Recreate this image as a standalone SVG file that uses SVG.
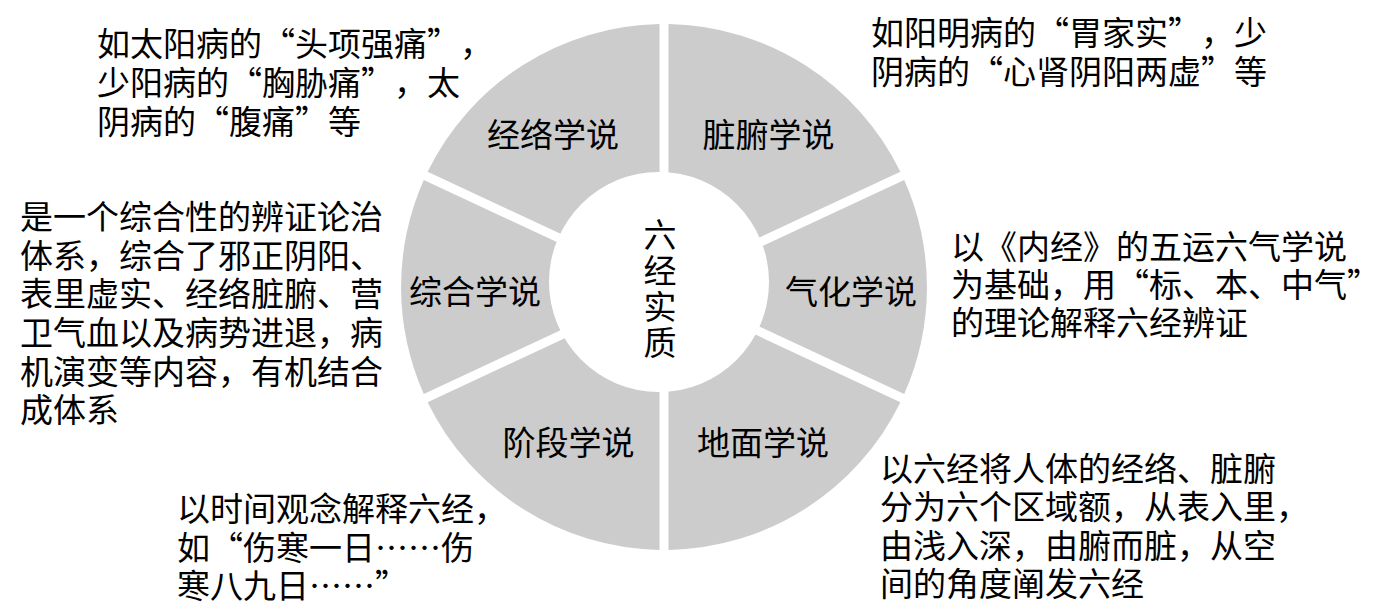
<svg xmlns="http://www.w3.org/2000/svg" width="1390" height="613" viewBox="0 0 1390 613">
<style>
text{font-family:"Noto Sans CJK SC","Noto Sans",sans-serif;fill:#000;text-spacing-trim:space-all}
.lbl{font-size:33px;text-anchor:middle}
.note{font-size:33px}
.ctr{font-size:33px;text-anchor:middle;writing-mode:vertical-rl;letter-spacing:3px}
.seg{fill:#cccccc}
</style>
<rect width="1390" height="613" fill="#ffffff"/>
<g id="ring">
<g id="seg-zangfu"><path class="seg" d="M668.5,279.9 L668.5,24.04 A263,263 0 0,1 900.4,171.8 Z"/><text class="lbl" x="768.5" y="147">脏腑学说</text></g>
<g id="seg-qihua"><path class="seg" d="M674.65,287 L904.2,180 A263,263 0 0,1 904.2,394 Z"/><text class="lbl" x="851" y="304">气化学说</text></g>
<g id="seg-dimian"><path class="seg" d="M668.5,294.1 L900.4,402.2 A263,263 0 0,1 668.5,549.96 Z"/><text class="lbl" x="763" y="455">地面学说</text></g>
<g id="seg-jieduan"><path class="seg" d="M659.5,294.1 L659.5,549.96 A263,263 0 0,1 427.6,402.2 Z"/><text class="lbl" x="568.5" y="455">阶段学说</text></g>
<g id="seg-zonghe"><path class="seg" d="M653.35,287 L423.8,394 A263,263 0 0,1 423.8,180 Z"/><text class="lbl" x="475" y="304">综合学说</text></g>
<g id="seg-jingluo"><path class="seg" d="M659.5,279.9 L427.6,171.8 A263,263 0 0,1 659.5,24.04 Z"/><text class="lbl" x="553" y="147">经络学说</text></g>
</g>
<g id="center">
<circle cx="659" cy="282" r="110" fill="#ffffff"/>
<text class="ctr" x="660" y="290">六经实质</text>
</g>
<g id="connectors"></g>
<g id="note-jingluo">
<text class="note"><tspan x="97" y="56">如太阳病的“头项强痛”，</tspan><tspan x="97" y="95">少阳病的“胸胁痛”，太</tspan><tspan x="97" y="134">阴病的“腹痛”等</tspan></text>
</g>
<g id="note-zangfu">
<text class="note"><tspan x="871" y="45">如阳明病的“胃家实”，少</tspan><tspan x="871" y="84">阴病的“心肾阴阳两虚”等</tspan></text>
</g>
<g id="note-zonghe">
<text class="note"><tspan x="20" y="229">是一个综合性的辨证论治</tspan><tspan x="20" y="268">体系，综合了邪正阴阳、</tspan><tspan x="20" y="306">表里虚实、经络脏腑、营</tspan><tspan x="20" y="345">卫气血以及病势进退，病</tspan><tspan x="20" y="384">机演变等内容，有机结合</tspan><tspan x="20" y="422">成体系</tspan></text>
</g>
<g id="note-qihua">
<text class="note"><tspan x="951" y="259">以《内经》的五运六气学说</tspan><tspan x="951" y="297">为基础，用“标、本、中气”</tspan><tspan x="951" y="335">的理论解释六经辨证</tspan></text>
</g>
<g id="note-jieduan">
<text class="note"><tspan x="177" y="521">以时间观念解释六经，</tspan><tspan x="177" y="560">如“伤寒一日……伤</tspan><tspan x="177" y="598">寒八九日……”</tspan></text>
</g>
<g id="note-dimian">
<text class="note"><tspan x="880" y="481">以六经将人体的经络、脏腑</tspan><tspan x="880" y="519">分为六个区域额，从表入里，</tspan><tspan x="880" y="558">由浅入深，由腑而脏，从空</tspan><tspan x="880" y="596">间的角度阐发六经</tspan></text>
</g>
</svg>
